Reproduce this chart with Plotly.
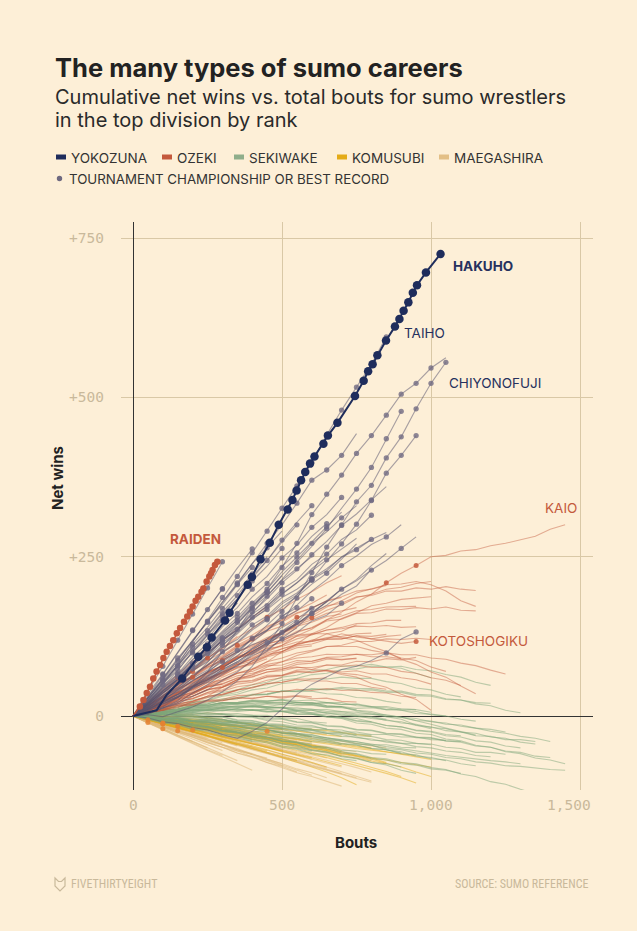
import plotly.graph_objects as go

# ---------------- data ----------------
BOUT_GRID = [0, 50, 100, 150, 200, 250, 300, 350, 400, 450, 500, 550, 600, 650, 700, 750,
             800, 850, 900, 950, 1000, 1050, 1100, 1150, 1200, 1250, 1300, 1350, 1400, 1450, 1500]

RANK_LABELS = ["YOKOZUNA", "OZEKI", "SEKIWAKE", "KOMUSUBI", "MAEGASHIRA"]
RANK_COLORS = ["#1f2d5c", "#c4593c", "#8fae8b", "#e4ab17", "#e3bf86"]
CHAMP_LABEL = "TOURNAMENT CHAMPIONSHIP OR BEST RECORD"

X_TICKS = [0, 500, 1000, 1500]
X_TICK_LABELS = ["0", "500", "1,000", "1,500"]
Y_TICKS = [0, 250, 500, 750]
Y_TICK_LABELS = ["0", "+250", "+500", "+750"]

HAKUHO_BOUTS = [0, 79, 113, 165, 219, 248, 264, 309, 324, 385, 399, 428, 459, 489, 519, 535, 549, 564, 578,
                594, 609, 639, 654, 686, 745, 774, 789, 804, 820, 849, 879, 894, 908, 924, 939, 953, 983, 1032]
HAKUHO_NET = [0, 9, 33, 59, 93, 108, 123, 150, 162, 206, 218, 246, 272, 300, 324, 339, 354, 370, 383,
              396, 407, 427, 440, 460, 502, 526, 541, 552, 566, 589, 611, 623, 636, 649, 664, 676, 696, 725]
HAKUHO_FIRST_TITLE = 3

RAIDEN_BOUTS = [0, 23, 35, 46, 57, 68, 79, 91, 102, 113, 124, 135, 147, 158, 171, 182, 191, 200, 210, 219,
                230, 236, 247, 256, 262, 267, 275, 283]
RAIDEN_NET = [0, 15, 25, 36, 46, 59, 70, 80, 91, 101, 110, 119, 130, 138, 148, 156, 164, 172, 181, 187,
              195, 200, 211, 219, 224, 229, 237, 242]

# net wins sampled every 50 bouts (BOUT_GRID) for each wrestler, grouped by highest rank
YOKOZUNA_NET = [
    [0, 22, 50, 80, 116, 150, 186, 219, 256, 290, 326, 361, 398, 441, 480, 516, 552, 595],
    [0, 3, 12, 24, 46, 69, 101, 134, 170, 199, 233, 271, 316, 348, 378, 412, 440, 472, 505, 522, 546, 562],
    [0, 2, -1, 6, 14, 25, 38, 55, 78, 110, 145, 185, 225, 265, 300, 336, 362, 405, 438, 482, 522, 555],
    [0, 10, 24, 41, 60, 84, 110, 134, 161, 188, 214, 241, 266, 294, 326, 356, 390, 435, 478],
    [0, 5, 15, 29, 44, 62, 81, 99, 121, 142, 164, 190, 214, 243, 270, 301, 338, 381, 409, 440],
    [0, 28, 57, 89, 117, 149, 178, 209, 239, 271, 300, 334, 370, 386, 409, 443],
    [0, 15, 36, 54, 76, 94, 119, 139, 163, 184, 209, 229, 253, 274, 299, 317, 339, 360],
    [0, 10, 21, 34, 51, 64, 81, 94, 116, 134, 156, 174, 196, 214, 236, 251, 269, 281, 300],
    [0, 8, 19, 29, 46, 59, 76, 89, 106, 121, 139, 152, 169, 181, 199, 212, 229, 244, 263, 281],
    [0, 20, 43, 61, 83, 99, 119, 135, 153, 167, 186, 199, 216, 231, 249, 261, 277],
    [0, 20, 46, 71, 101, 127, 157, 184, 216, 244, 276, 304, 330],
    [0, 15, 36, 57, 83, 104, 129, 151, 177, 199, 226, 249, 273, 297, 320],
    [0, 12, 29, 44, 63, 79, 99, 115, 135, 151, 171, 187, 207, 224, 246, 270],
    [0, 25, 53, 79, 109, 134, 163, 189, 219, 244, 273, 300],
    [0, 15, 33, 49, 71, 89, 111, 129, 151, 169, 191, 209, 231, 250],
    [0, 18, 39, 59, 83, 103, 127, 147, 171, 194, 220],
    [0, 10, 23, 34, 49, 61, 77, 89, 105, 117, 133, 145, 161, 174, 191, 204, 230],
    [0, 28, 57, 83, 113, 139, 169, 195, 223, 250],
    [0, 10, 21, 31, 46, 57, 73, 85, 101, 114, 131, 144, 161, 179, 200],
    [0, 8, 19, 29, 43, 55, 71, 83, 99, 112, 129, 147, 170],
    [0, 22, 45, 65, 89, 109, 133, 155, 180],
    [0, 12, 31, 49, 73, 94, 121, 144, 171, 194, 221, 244, 271, 289, 311, 330],
    [0, 5, 13, 21, 36, 49, 66, 79, 97, 111, 129, 144, 163, 179, 199, 214, 236, 255],
    [0, 10, 23, 33, 47, 57, 73, 85, 101, 115, 133, 150],
    [0, 5, 13, 19, 31, 41, 56, 69, 87, 102, 122, 139, 161, 180],
    [0, 18, 39, 57, 81, 101, 123, 140],
    [0, 30, 65, 99, 135, 167, 200],
    [0, 28, 59, 87, 119, 147, 179, 207, 239, 264, 290],
    [0, 18, 39, 57, 81, 101, 125, 145, 169, 189, 213, 231, 250],
    [0, 12, 25, 40, 55, 70, 85, 100, 112, 120],
    [0, 25, 52, 79, 104, 129, 152, 178],
    [0, 38, 78, 119, 160, 201, 242],
    [0, -3, -9, -12, -18, -22, -29, -35, -24, -10, 11, 34, 50, 61, 73, 78, 87, 99, 121, 132],
    [0, 20, 44, 62, 88, 108, 131, 150, 174, 195],
    [0, 26, 49, 77, 99, 127, 150, 177],
    [0, 17, 37, 52, 74, 92, 115, 131, 155, 172, 196],
    [0, 31, 59, 91, 118, 148, 175, 206, 233],
    [0, 14, 32, 45, 65, 80, 101, 116, 138, 153, 176, 190, 213],
    [0, 22, 47, 66, 93, 113, 140, 161, 187, 208, 235, 256, 282, 302],
    [0, 12, 27, 38, 56, 68, 88, 101, 122, 135, 157, 170],
    [0, 35, 66, 101, 134, 167, 199, 232, 262],
    [0, 19, 40, 57, 80, 97, 120, 136, 160, 176, 199, 214, 238, 254, 277, 292, 315],
    [0, 24, 52, 72, 101, 121, 150, 170, 199, 219, 248, 268, 296, 316, 343],
    [0, 9, 22, 30, 45, 53, 69, 78, 95, 104, 121, 131, 149, 158, 177],
    [0, 16, 36, 49, 71, 85, 107, 120, 143, 157, 179, 193, 214, 228, 250, 263, 277, 288],
    [0, 27, 55, 79, 108, 132, 161, 183, 212, 235, 263],
    [0, 13, 29, 42, 59, 72, 91, 103, 121, 134, 153, 165, 184],
    [0, 21, 41, 59, 80, 98, 118, 135, 155, 173, 192, 209, 228, 245, 262, 279],
]
YOKOZUNA_TITLES = [
    [6, 7, 8, 9, 10, 11, 12, 13, 14, 15, 16, 17],
    [8, 9, 10, 11, 12, 13, 14, 15, 16, 17, 18, 19, 20],
    [10, 11, 12, 13, 14, 15, 16, 17, 18, 19, 20, 21],
    [9, 11, 13, 15, 16, 17, 18],
    [10, 12, 14, 15, 16, 17, 18, 19],
    [5, 7, 9, 11, 12, 13, 14],
    [8, 10, 12, 14, 16],
    [10, 14, 17],
    [12, 16, 18],
    [6, 9, 12, 15],
    [4, 6, 8, 10, 12],
    [5, 8, 11, 13],
    [9, 13],
    [3, 5, 7, 9, 11],
    [6, 10],
    [4, 7, 9],
    [12],
    [2, 4, 6, 8],
    [10],
    [11],
    [3, 5, 7],
    [6, 9, 12, 14],
    [14],
    [9],
    [12],
    [4, 6],
    [2, 4, 6],
    [3, 5, 7, 9],
    [5, 8, 11],
    [6],
    [3, 5],
    [2, 3, 4, 5, 6],
    [17, 19],
    [3, 5, 7, 9],
    [2, 4, 6],
    [4, 6, 8, 10],
    [2, 3, 5, 7, 8],
    [6, 9, 12],
    [3, 5, 7, 9, 11, 13],
    [8, 11],
    [2, 4, 5, 6, 8],
    [4, 7, 10, 13, 16],
    [3, 6, 8, 10, 12, 14],
    [10, 14],
    [8, 12, 16],
    [2, 4, 6, 8, 10],
    [7, 12],
    [5, 9, 13],
]

OZEKI_NET = [
    [0, 9, 17, 29, 39, 53, 64, 81, 90, 101, 111, 126, 136, 151, 163, 179, 191, 209, 224, 236, 250, 252, 259,
     261, 267, 271, 277, 282, 293, 300],
    [0, 5, 13, 21, 36, 47, 61, 71, 86, 94, 106, 111, 119, 121, 129, 124, 121, 117, 114, 117],
    [0, 11, 21, 36, 47, 63, 75, 91, 103, 119, 131, 146, 157, 171, 181, 193, 199, 206, 207, 211, 206, 196, 181, 172],
    [0, 13, 24, 39, 51, 67, 79, 95, 107, 121, 131, 145, 154, 166, 174, 186, 191, 199, 202, 208, 211],
    [0, 4, 9, 13, 23, 31, 45, 57, 73, 85, 101, 113, 129, 139, 153, 162, 173, 177, 183, 185, 187],
    [0, 11, 21, 36, 49, 66, 79, 93, 101, 113, 119, 127, 129, 129, 123, 119, 109, 101, 89, 81, 69, 61, 47, 35],
    [0, 9, 15, 26, 34, 46, 54, 63, 67, 73, 74, 77, 73, 71, 65, 61, 51, 45, 34, 26, 9],
    [0, 13, 25, 41, 54, 69, 79, 91, 97, 106, 109, 116, 117, 121, 121, 126, 121, 125, 127],
    [0, 9, 17, 31, 41, 57, 69, 83, 93, 107, 117, 131, 139, 151, 157, 165, 167, 171, 171, 172],
    [0, 16, 29, 47, 61, 79, 93, 109, 121, 136, 147, 161, 169, 181, 187, 196, 199, 205],
    [0, 11, 21, 35, 45, 59, 69, 81, 89, 99, 105, 113, 117, 123, 125, 129, 130],
    [0, 9, 15, 25, 31, 41, 47, 57, 61, 69, 73, 81, 83, 89, 89, 90],
    [0, 16, 29, 46, 59, 75, 87, 101, 111, 123, 131, 141, 147, 156, 160],
    [0, 7, 11, 19, 23, 31, 34, 41, 44, 51, 53, 58, 58, 60],
    [0, 13, 23, 37, 47, 59, 67, 77, 83, 93, 99, 107, 110],
    [0, 17, 31, 49, 61, 77, 87, 101, 109, 121, 129, 140],
    [0, 9, 17, 29, 37, 49, 57, 67, 73, 81, 85, 91, 93, 97, 96, 97, 93, 93, 90],
    [0, 9, 15, 27, 35, 47, 55, 67, 74, 85, 91, 99, 103, 109, 109, 109, 103, 99, 91, 87, 77, 70],
    [0, 13, 23, 37, 45, 57, 65, 75, 81, 90],
    [0, 17, 31, 49, 61, 77, 89, 106, 120],
    [0, 9, 15, 23, 27, 35, 39, 46, 49, 56, 60],
    [0, 7, 11, 19, 23, 31, 34, 40],
    [0, 9, 15, 25, 31, 41, 45, 53, 55, 61, 63, 69, 69, 71, 67, 65, 60],
    [0, 19, 35, 55, 71, 91, 105, 123, 137, 155, 167, 183, 195, 209, 220],
    [0, 17, 31, 49, 63, 81, 95, 111, 123, 139, 151, 166, 177, 190],
    [0, 11, 19, 33, 43, 57, 67, 81, 91, 103, 111, 121, 127, 135, 139, 145, 146, 150, 150],
    [0, 7, 11, 21, 27, 37, 45, 57, 65, 77, 85, 95, 101, 109, 111, 117, 117, 121, 120, 122, 120],
    [0, 11, 19, 31, 37, 46, 50],
    [0, 6, 9, 15, 17, 23, 24, 28, 28, 31, 30, 32, 30],
    [0, 13, 23, 37, 47, 63, 75, 91, 103, 119, 129, 143, 151, 161, 165, 170],
    [0, 6, 9, 17, 21, 29, 33, 41, 45, 51, 53, 57, 55, 55, 51, 51, 45, 42],
    [0, 15, 27, 43, 53, 69, 79, 93, 101, 115, 125, 138],
    [0, 21, 41, 61, 79, 99, 117, 137, 155, 172],
    [0, 19, 37, 57, 73, 91, 107, 125],
    [0, 23, 43, 65, 85, 105],
    [0, 12, 21, 34, 42, 55, 63, 76, 83, 95, 101, 113, 118, 129, 133, 143],
    [0, 8, 14, 23, 28, 37, 41, 50, 53, 62, 64, 72, 73, 80, 80, 86, 85, 90, 88, 92],
    [0, 15, 26, 42, 52, 67, 76, 91, 99, 113, 120, 133, 138, 149, 152, 161, 162, 168, 167, 170, 168, 171, 166, 165],
    [0, 10, 17, 28, 34, 45, 50, 60, 64, 73, 76, 84, 86, 92, 93, 97, 96, 99, 96, 96, 91, 89, 83, 79, 72, 66],
    [0, 6, 9, 16, 18, 25, 26, 32, 33, 39, 38, 42, 40, 43, 40, 41, 37, 36, 31, 29],
    [0, 18, 32, 50, 63, 80, 92, 108, 118, 133, 141, 155, 161, 173, 177, 187, 189, 196, 196, 201, 199, 203, 199, 197],
    [0, 14, 24, 38, 47, 60, 68, 80, 86, 97, 101, 110, 113, 120, 121, 126, 125, 128],
    [0, 10, 16, 27, 31, 42, 45, 54, 56, 64, 64, 70, 68, 72, 69, 71, 66, 66, 60, 57, 50],
    [0, 20, 37, 55, 70, 87, 100, 115, 127, 141, 150, 162, 170, 180, 186],
    [0, 7, 10, 17, 18, 24, 24, 29, 27, 31, 28, 31, 27, 28, 23, 22],
    [0, 16, 29, 44, 55, 69, 78, 91, 98, 110, 115, 125, 128, 135, 137, 141, 140, 142, 139, 140],
    [0, 11, 19, 30, 36, 46, 51, 59, 62, 69, 71, 76, 76, 80, 78, 80, 76, 76, 70, 67, 60, 56, 48],
    [0, 13, 22, 34, 41, 52, 57, 67, 70, 79, 80, 87, 86, 91, 88, 91],
]
OZEKI_TITLES = [[17, 19], [19], [], [12], [], [], [], [], [], [8], [], [], [6], [], [], [4], [], [], [], [],
                [], [], [], [5, 9], [7], [], [], [], [], [], [], [], [3], [], [], [], [], [6], [], [], [11],
                [], [], [4], [], [], [], []]

SEKIWAKE_NET = [
    [0, 3, 7, 9, 15, 17, 21, 19, 19, 14, 13, 7, 5, -1, -4, -11, -13, -19, -21, -27, -29, -36, -39, -46, -49,
     -56, -59, -66, -69, -75],
    [0, -3, -7, -9, -15, -17, -23, -25, -31, -33, -39, -41, -47, -49, -56, -59, -65, -67, -73, -75, -81, -84,
     -91, -95, -103, -107, -115, -122],
    [0, 2, 6, 7, 11, 11, 15, 15, 16, 13, 13, 9, 9, 4, 3, -1, -2, -7, -9, -15, -17, -23, -25, -31, -32, -37,
     -37, -40],
    [0, 4, 9, 11, 17, 19, 25, 27, 33, 34, 39, 39, 43, 42, 45, 43, 43, 39, 39, 34, 33, 27, 25, 19, 16, 9, 5],
    [0, 5, 11, 14, 21, 25, 33, 37, 45, 49, 56, 59, 65, 67, 73, 74, 78, 77, 78, 73, 71, 65, 61, 53, 48],
    [0, -2, -3, -7, -7, -11, -11, -15, -15, -19, -19, -23, -23, -27, -27, -31, -32, -37, -38, -43, -44, -49,
     -51, -57, -57, -60],
    [0, 3, 8, 9, 15, 16, 21, 21, 25, 24, 25, 21, 21, 16, 15, 9, 7, 1, -2, -7, -13, -19, -24, -30],
    [0, -2, -6, -8, -14, -17, -23, -25, -31, -33, -39, -42, -49, -51, -58, -60, -67, -69, -75, -77, -83, -85,
     -90],
    [0, 2, 4, 1, 1, -4, -5, -11, -13, -19, -21, -27, -29, -35, -37, -43, -46, -53, -56, -63, -65, -70],
    [0, 4, 9, 11, 16, 17, 21, 21, 24, 23, 25, 21, 21, 16, 14, 8, 5, -1, -5, -14, -20],
    [0, -1, -4, -4, -9, -10, -15, -16, -21, -22, -27, -28, -33, -34, -39, -40, -45, -45, -49, -50],
    [0, 5, 11, 13, 19, 21, 27, 29, 34, 35, 39, 38, 39, 35, 34, 29, 28, 23, 20],
    [0, -3, -8, -10, -16, -18, -24, -26, -32, -34, -40, -42, -48, -49, -54, -55, -59, -60],
    [0, 2, 5, 4, 6, 3, 3, -1, -2, -7, -9, -14, -15, -21, -22, -28, -30],
    [0, 4, 9, 11, 16, 17, 21, 21, 24, 21, 22, 18, 18, 14, 13, 10],
    [0, -2, -6, -7, -12, -13, -18, -20, -26, -28, -34, -35, -40, -41, -45],
    [0, 1, 3, 1, 2, -1, -1, -6, -7, -12, -13, -17, -17, -20],
    [0, -4, -10, -12, -19, -21, -28, -30, -37, -40, -47, -50, -55],
    [0, 3, 7, 7, 11, 10, 12, 9, 10, 7, 7, 5],
    [0, -3, -8, -9, -15, -16, -22, -23, -29, -30, -35],
    [0, -1, -4, -4, -8, -8, -12, -11, -15, -15],
    [0, -5, -11, -14, -21, -24, -31, -34, -40],
    [0, -1, -4, -3, -7, -6, -10, -10],
    [0, 4, 9, 11, 17, 19, 25, 27, 33, 34, 39, 39, 42, 41, 43, 40, 41, 37, 37, 32, 31, 26, 25, 21, 20],
    [0, 5, 11, 14, 21, 24, 31, 34, 41, 44, 51, 53, 58, 58, 61, 59, 59, 54, 51, 44, 41, 34, 30],
    [0, 6, 13, 17, 25, 29, 37, 41, 49, 53, 61, 64, 71, 73, 78, 78, 81, 77, 75, 67, 60],
    [0, 2, 5, 5, 9, 9, 13, 13, 16, 15, 18, 16, 17, 14, 15, 12, 13, 10, 11, 10],
    [0, 1, 3, 2, 5, 3, 4, 1, 1, -3, -4, -9, -10, -15, -16, -21, -22, -27, -28, -33, -34, -39, -41, -47, -49,
     -55, -57, -63, -65],
    [0, -1, -3, -3, -7, -8, -13, -14, -19, -21, -27, -29, -35, -37, -43, -45, -51, -53, -59, -61, -67, -69,
     -75, -78],
    [0, 2, 5, 5, 9, 8, 11, 9, 10, 7, 7, 3, 3, -1, -2, -7, -9, -15, -17, -23, -25, -31, -33, -39, -41, -47, -50],
    [0, -4, -9, -11, -17, -19, -25, -27, -34, -37, -44, -47, -54, -57, -64, -67, -73, -75, -80],
    [0, -4, -10, -13, -20, -22, -29, -32, -39, -42, -49, -52, -59, -61, -67, -70],
    [0, 1, 3, 1, 2, -2, -2, -7, -8, -13, -14, -19, -20],
    [0, 3, 7, 8, 13, 14, 19, 19, 23, 23, 26, 24, 25, 21, 21, 16, 15, 10, 9, 4, 3, 0],
    [0, 2, 5, 5, 9, 9, 13, 12, 15, 13, 14, 11, 11, 7, 7, 3, 3, -1, -2, -7, -8, -13, -14, -19, -21, -25],
    [0, 3, 7, 8, 13, 13, 16, 14, 15, 12, 13, 9, 9, 5, 5, 1, -1, -5],
    [0, -1, -3, -2, -5, -5, -9, -9, -14, -15, -20, -21, -26, -27, -32, -33, -38, -39, -43, -43, -45],
    [0, 4, 9, 10, 15, 15, 19, 19, 22, 20, 21, 18, 19, 15, 15],
    [0, 1, 3, 2, 4, 1, 2, -1, -1, -5, -5, -10, -11, -16, -17, -22, -23, -28, -29, -34, -35, -39, -40],
    [0, -3, -7, -9, -15, -17, -23, -26, -33, -36, -43, -46, -53, -56, -63, -66, -73, -77, -85, -90],
    [0, -3, -4, -8, -9, -13, -14, -19, -20, -25, -26, -31, -32, -37, -39, -44, -46, -51, -53, -58, -60, -65,
     -67, -72, -74, -78, -79, -82, -84, -85],
    [0, 2, 3, 6, 6, 9, 8, 11, 9, 11, 8, 9, 5, 5, 1, 0, -4, -6, -11, -13, -18, -20, -25, -27, -33, -35, -41, -44],
    [0, -2, -5, -5, -9, -9, -13, -12, -16, -15, -19, -18, -22, -21, -25, -25, -29, -29, -33, -33, -37, -38],
    [0, 3, 5, 7, 9, 12, 13, 16, 16, 19, 18, 21, 19, 21, 18, 19, 15, 15, 11, 10, 6],
    [0, -1, -1, -4, -4, -7, -7, -11, -11, -15, -16, -20, -21, -25, -26, -30],
    [0, -2, -6, -7, -12, -13, -18, -19, -24, -25, -30, -32, -37, -39, -44, -46, -51, -53, -58],
    [0, 1, 1, -1, -1, -4, -5, -9, -10, -14, -15, -20, -22, -27, -29, -34, -36, -41, -43, -48, -50, -55, -57,
     -62, -64],
    [0, 4, 7, 10, 12, 15, 16, 19, 19, 21, 20, 22, 20, 21, 18, 18, 14, 13, 9, 7, 2, 0, -5, -8],
    [0, -3, -6, -10, -13, -17, -20, -25, -28, -33, -36, -41, -44],
    [0, 2, 2, 4, 3, 5, 3, 4, 1, 1, -3, -4, -9, -11],
    [0, -2, -3, -6, -7, -10, -12, -16, -18, -22, -24, -28, -30, -34, -37, -41, -44, -48, -51, -55, -58, -62,
     -65, -68, -70, -72, -75],
    [0, 1, 4, 4, 7, 6, 9, 7, 9, 6, 7, 3, 3, -2, -3, -8, -10, -15, -17, -22, -24, -29, -31],
    [0, -1, -4, -5, -9, -10, -14, -15, -20, -21, -26, -27, -32],
    [0, 3, 4, 7, 7, 10, 9, 11, 9, 10, 7, 7, 3, 2, -2, -4, -9],
    [0, -2, -4, -4, -7, -7, -10, -10, -14, -14, -18],
    [0, 2, 2, 1, -1, -3, -6, -8, -12, -14],
    [0, -3, -7, -8, -13, -15, -20, -22, -28],
    [0, 1, 0, -2, -2, -5, -6, -10],
    [0, 4, 6, 9, 10, 13, 13, 15, 14, 15, 13, 13, 10, 10, 7, 6, 3, 2, -2, -4, -9, -11, -16, -19, -24, -27, -32,
     -35, -40],
]

KOMUSUBI_NET = [
    [0, -2, -7, -9, -14, -18, -21, -27, -30, -35, -39, -44, -48, -53, -58, -62, -68, -74, -80, -88, -95],
    [0, -4, -7, -13, -17, -22, -26, -32, -36, -41, -47, -51, -57, -62, -68, -74, -80, -87, -95],
    [0, -6, -12, -18, -25, -31, -38, -44, -51, -58, -65, -72, -80, -88, -97, -108],
    [0, -3, -6, -11, -14, -19, -22, -27, -31, -36, -40, -45, -50, -55, -60],
    [0, -5, -10, -17, -22, -28, -34, -40, -47, -53, -60, -66, -73, -80],
    [0, -2, -5, -8, -12, -15, -19, -22, -26, -29, -33, -36, -40],
    [0, -6, -12, -19, -25, -31, -38, -44, -51, -57, -64, -70],
    [0, -2, -5, -7, -10, -13, -16, -20, -23, -27, -30],
    [0, -6, -12, -18, -24, -30, -37, -43, -49, -55],
    [0, -2, -5, -7, -10, -12, -15, -17, -20],
    [0, -6, -12, -19, -25, -32, -38, -45],
    [0, -3, -5, -8, -10, -13, -15],
    [0, -6, -12, -18, -24, -30],
    [0, -3, -5, -8, -10],
    [0, 1, 0, -3, -6, -9, -13, -16, -20, -24, -28, -32, -36, -40, -44, -47, -50],
    [0, -3, -8, -11, -16, -20, -25, -29, -34, -38, -43, -48, -52, -57, -62, -66, -71, -75],
    [0, -4, -10, -15, -21, -26, -32, -37, -43, -48, -54, -59, -65],
    [0, -4, -11, -16, -22, -27, -33, -38, -44, -49, -55],
    [0, 1, 3, 2, 0, -3, -6, -10, -13, -17, -20, -24, -27, -30, -32],
    [0, -2, -5, -9, -12, -16, -19, -23, -26, -30, -33, -37, -40, -44, -47, -51, -54, -57, -59, -62],
    [0, -5, -9, -12],
    [0, -2, -7, -10, -14, -18, -21, -25],
    [0, -3, -7, -11, -15, -19, -23, -27, -31, -35],
    [0, -3, -8, -12, -17, -21, -26, -30, -35, -39, -42, -45],
    [0, -3, -7, -11, -15, -19, -23, -27, -31, -35, -39, -43, -47, -50],
    [0, -3, -5, -9, -11, -15, -17, -21, -24, -28, -31, -35, -38, -42, -45, -49, -52, -56, -60, -64, -68],
    [0, -1, -4, -5, -9, -10, -14, -16, -20, -22, -26, -28, -33],
    [0, -4, -6, -11, -13, -18, -21, -26, -29, -34, -37, -43, -46, -52, -56, -62, -66, -73],
    [0, -2, -3, -6, -7, -10, -11, -14, -16, -19, -21],
    [0, -5, -8, -14, -17, -23, -27, -33, -37, -43, -48, -54, -59, -65, -71, -77, -83, -90, -97, -105],
    [0, -1, -3, -6, -8, -11, -14, -17, -20],
    [0, -3, -6, -10, -13, -17, -20, -25, -28, -33, -36, -41, -45, -50, -54],
    [0, -2, -6, -8, -12, -14, -18],
    [0, -4, -8, -11, -16, -19, -24, -28, -33, -36, -41, -45, -50, -54, -59, -62, -66, -69, -73, -76, -80],
    [0, -1, -2, -3, -5, -6, -8, -10, -12, -14, -16, -18, -20, -23, -26, -29, -32],
    [0, -6, -10, -16, -21, -27, -32, -38, -43, -49, -55, -61, -66, -72, -78],
]
KOMUSUBI_TITLES = [[], [], [2], [], [4], [], [], [], [], [], [], [], [], [], [9], [], [], [], [], [], [],
                   [], [], [], [], [], [], [], [], [], [], [], [], [], [], [3]]

MAEGASHIRA_NET = [
    [0, -6, -15],
    [0, -4, -13, -20],
    [0, -7, -12, -21, -25],
    [0, -5, -14, -19, -28, -35],
    [0, -8, -15, -23, -29, -36, -42],
    [0, -6, -13, -17, -25, -31, -40, -47],
    [0, -9, -16, -25, -31, -40, -46, -55, -60],
    [0, -7, -15, -21, -30, -36, -45, -51, -60, -66],
    [0, -8, -17, -24, -33, -40, -49, -55, -64, -70, -78],
    [0, -9, -16, -26, -33, -42, -49, -58, -64, -73, -79, -88],
    [0, -7, -15, -23, -30, -38, -45, -53, -61, -68, -76, -84, -93],
    [0, -8, -14, -23, -30, -38, -44, -53, -59, -68, -75, -83, -89, -97],
    [0, -9, -17, -25, -34, -42, -49, -58, -65, -73, -81, -89, -95, -103, -110],
    [0, -2, -5],
    [0, -1, -6, -8],
    [0, -3, -7, -9, -14],
    [0, 1, -3, -5, -10, -12],
    [0, -2, -7, -9, -15, -18, -23],
    [0, -3, -6, -11, -14, -20, -23, -29],
    [0, -4, -9, -12, -18, -22, -28, -31, -37],
    [0, -2, -8, -11, -17, -20, -27, -30, -36, -40],
    [0, -5, -9, -15, -19, -26, -30, -36, -40, -47, -52],
    [0, -3, -9, -13, -20, -24, -31, -35, -42, -46, -53, -58],
    [0, -4, -10, -15, -21, -26, -33, -37, -44, -49, -56, -61, -68],
    [0, -6, -11, -18, -23, -31, -36, -43, -49, -57, -62, -69, -74, -82],
    [0, -5, -12, -17, -25, -30, -38, -43, -51, -57, -64, -70, -77, -83, -90],
    [0, -6, -13, -19, -26, -32, -39, -45, -52, -58, -65, -71, -78, -84, -91, -97],
    [0, 2, 0, 3],
    [0, 1, 3, 1, 4],
    [0, -1, 1, -2, 0, -3],
    [0, 3, 1, 4, 2, 5, 3],
    [0, -10, -18],
    [0, -9, -19, -27],
    [0, -11, -20, -31, -40],
    [0, -10, -21, -30, -41, -50],
    [0, -11, -21, -32, -42, -53, -62],
    [0, -10, -20, -30, -41, -51, -61, -70],
    [0, -11, -22, -33, -43, -54, -64, -75, -85],
    [0, -4, -7, -12, -14, -19, -22, -27, -30, -35, -38],
    [0, -2, -6, -8, -13, -15, -20, -22, -27, -30, -35, -37, -42],
    [0, -3, -8, -10, -16, -19, -24, -27, -33, -36, -42, -45, -51, -54, -60, -64, -70],
    [0, -4, -8, -11, -16, -19, -24, -27, -32, -35, -40, -43, -48, -51, -56, -60],
    [0, -5, -11, -15, -21, -26, -32, -36, -42, -47, -53, -58, -64, -69, -75, -81, -88],
    [0, -2, -3, -6, -7, -10, -11, -14, -16, -19, -21, -24, -26, -29],
    [0, -6, -11, -17, -22, -28, -33, -39, -44, -50, -55, -61, -67, -73, -80],
    [0, -1, -4, -4, -8, -9, -13, -14, -18, -19, -24],
    [0, -7, -12, -19, -24, -31, -36, -43, -48],
    [0, -2, -7, -9, -14, -16, -21, -24, -29, -31, -36, -39],
    [0, -8, -15, -23, -30, -38, -45, -53, -60, -68, -75],
    [0, -1, -3, -4, -6, -7, -9, -11, -13],
    [0, -4, -7, -11, -14, -18, -21, -25, -29, -33, -37, -40, -44, -48, -52, -56],
    [0, -9, -18, -27, -36, -45, -54],
    [0, -5, -10, -14, -19, -24, -29, -34, -39, -45, -50, -56, -61, -66],
    [0, -3, -5, -7, -10, -12, -15, -17, -20, -22, -26, -29, -33, -36, -40, -43, -47, -50],
    [0, -6, -12, -17, -23, -29, -35, -41, -47, -53, -59, -66, -73, -80, -87, -95, -102],
    [0, -2, -4, -7, -9, -12, -14, -17, -19, -22, -25, -28],
    [0, -4, -9, -13, -18, -22, -27, -31, -36, -40, -45, -49, -54, -58, -63],
    [0, 0, -2, -1, -3, -2, -4],
    [0, -7, -14, -20, -27, -33, -40, -46, -53, -59, -66, -72, -79, -85, -92, -98, -104],
]
MAEGASHIRA_TITLES = [[1], [], [2], [], [3], [], [], [], [], [], [], [], [], [], [], [], [], [], [], [],
                     [], [], [], [], [], [], [], [], [], [], [], [1], [], [2], [], [], [], [], [], [],
                     [], [], [], [], [2], [], [], [], [], [], [], [], [], [], [], [], [], []]

LABELS = [  # name, colour index, bold
    ("HAKUHO", 0, True), ("TAIHO", 0, False), ("CHIYONOFUJI", 0, False),
    ("KAIO", 1, False), ("KOTOSHOGIKU", 1, False), ("RAIDEN", 1, True),
]

# ---------------- layout helpers ----------------
W, H = 637, 931
PL, PR, PT, PB = 121, 593, 222, 790
X_RANGE = [-40.3, 1543.6]
Y_RANGE = [-116.1, 775.1]
BG = "#fdefd7"
TICK_COLOR = "#c9b99b"
NAVY_TEXT = "#26315e"
RED_TEXT = "#c4593c"


def px(x):
    return (x - PL) / (PR - PL)


def py(y):
    return (PB - y) / (PB - PT)


fig = go.Figure()


def add_group(nets, line_color, width, titles=None):
    dx, dy = [], []
    for i, vals in enumerate(nets):
        xs = BOUT_GRID[:len(vals)]
        fig.add_trace(go.Scatter(x=xs, y=vals, mode="lines",
                                 line=dict(color=line_color, width=width),
                                 hoverinfo="skip", showlegend=False))
        if titles and i < len(titles):
            for k in titles[i]:
                dx.append(xs[k])
                dy.append(vals[k])
    return dx, dy


mx, my = add_group(MAEGASHIRA_NET, "rgba(222,184,120,0.55)", 1.1, MAEGASHIRA_TITLES)
kx, ky = add_group(KOMUSUBI_NET, "rgba(228,171,23,0.5)", 1.1, KOMUSUBI_TITLES)
add_group(SEKIWAKE_NET, "rgba(125,165,122,0.5)", 1.1)
ox, oy = add_group(OZEKI_NET, "rgba(196,89,60,0.45)", 1.1, OZEKI_TITLES)
yx, yy = add_group(YOKOZUNA_NET, "rgba(88,85,112,0.52)", 1.1, YOKOZUNA_TITLES)

fig.add_trace(go.Scatter(x=mx + kx, y=my + ky, mode="markers",
                         marker=dict(color="rgba(228,130,50,0.85)", size=5),
                         hoverinfo="skip", showlegend=False))
fig.add_trace(go.Scatter(x=ox, y=oy, mode="markers",
                         marker=dict(color="rgba(196,89,60,0.85)", size=5),
                         hoverinfo="skip", showlegend=False))
fig.add_trace(go.Scatter(x=yx, y=yy, mode="markers",
                         marker=dict(color="rgba(112,106,130,0.8)", size=5.3),
                         hoverinfo="skip", showlegend=False))

# Raiden
fig.add_trace(go.Scatter(x=RAIDEN_BOUTS, y=RAIDEN_NET, mode="lines",
                         line=dict(color=RANK_COLORS[1], width=1.5),
                         hoverinfo="skip", showlegend=False))
fig.add_trace(go.Scatter(x=RAIDEN_BOUTS[1:], y=RAIDEN_NET[1:], mode="markers",
                         marker=dict(color=RANK_COLORS[1], size=6.5),
                         hoverinfo="skip", showlegend=False))
# Hakuho
fig.add_trace(go.Scatter(x=HAKUHO_BOUTS, y=HAKUHO_NET, mode="lines",
                         line=dict(color=RANK_COLORS[0], width=2),
                         hoverinfo="skip", showlegend=False))
fig.add_trace(go.Scatter(x=HAKUHO_BOUTS[HAKUHO_FIRST_TITLE:], y=HAKUHO_NET[HAKUHO_FIRST_TITLE:],
                         mode="markers", marker=dict(color=RANK_COLORS[0], size=8.5),
                         hoverinfo="skip", showlegend=False))

ann = []
shapes = []

TEXT_FONT = "Inter, Roboto, 'Open Sans', sans-serif"
MONO_FONT = "'DejaVu Sans Mono', 'Liberation Mono', monospace"
NARROW_FONT = "'Liberation Sans Narrow', 'Roboto Condensed', Roboto, sans-serif"

# title & subtitle
ann.append(dict(text="<b>The many types of sumo careers</b>", x=px(53), y=py(67), xanchor="left",
                yanchor="middle", font=dict(family=TEXT_FONT, size=25.5, color="#222222")))
ann.append(dict(text="Cumulative net wins vs. total bouts for sumo wrestlers", x=px(53), y=py(97),
                xanchor="left", yanchor="middle", font=dict(family=TEXT_FONT, size=20, color="#2a2a2a")))
ann.append(dict(text="in the top division by rank", x=px(53), y=py(120),
                xanchor="left", yanchor="middle", font=dict(family=TEXT_FONT, size=20, color="#2a2a2a")))

# legend
LEG_SWATCH_X = [56, 162, 234, 337, 439]
for lab, col, sx in zip(RANK_LABELS, RANK_COLORS, LEG_SWATCH_X):
    shapes.append(dict(type="rect", xref="paper", yref="paper", x0=px(sx), x1=px(sx + 10),
                       y0=py(159.5), y1=py(154.5), fillcolor=col, line=dict(width=0)))
    ann.append(dict(text=lab, x=px(sx + 12.5), y=py(157.5), xanchor="left", yanchor="middle",
                    font=dict(family=TEXT_FONT, size=13.5, color="#333333")))
shapes.append(dict(type="circle", xref="paper", yref="paper", x0=px(56.8), x1=px(62.2),
                   y0=py(181.2), y1=py(175.8), fillcolor="#6e6980", line=dict(width=0)))
ann.append(dict(text=CHAMP_LABEL, x=px(67), y=py(179), xanchor="left", yanchor="middle",
                font=dict(family=TEXT_FONT, size=13.3, color="#333333")))

# x tick labels (last one kept inside the plot, as in the original)
for i, (tv, tl) in enumerate(zip(X_TICKS, X_TICK_LABELS)):
    last = i == len(X_TICKS) - 1
    ann.append(dict(text=tl, x=X_RANGE[1] if last else tv, xref="x", y=py(805), xanchor="right" if last else "center",
                    yanchor="middle", font=dict(family=MONO_FONT, size=14.5, color=TICK_COLOR)))

# axis titles
ann.append(dict(text="<b>Net wins</b>", x=px(57), y=py(478), textangle=-90, xanchor="center",
                yanchor="middle", font=dict(family=TEXT_FONT, size=15, color="#222222")))
ann.append(dict(text="<b>Bouts</b>", x=px(356), y=py(842), xanchor="center", yanchor="middle",
                font=dict(family=TEXT_FONT, size=15, color="#222222")))

# wrestler labels
LABEL_POS = [(451, 266), (402, 333), (447, 383), (543, 508), (427, 641), (168, 539)]
for (name, ci, bold), (lx, ly) in zip(LABELS, LABEL_POS):
    col = NAVY_TEXT if ci == 0 else RED_TEXT
    ann.append(dict(text=f"<b>{name}</b>" if bold else name, x=px(lx), y=py(ly), xanchor="left",
                    yanchor="middle", font=dict(family=TEXT_FONT, size=13.5, color=col)))

# footer
ann.append(dict(text="FIVETHIRTYEIGHT", x=px(69), y=py(884), xanchor="left", yanchor="middle",
                font=dict(family=NARROW_FONT, size=12, color="#c9b99b")))
ann.append(dict(text="SOURCE: SUMO REFERENCE", x=px(591), y=py(884), xanchor="right", yanchor="middle",
                font=dict(family=NARROW_FONT, size=12, color="#c9b99b")))
fox = [(55, 878), (58.5, 881.5), (61.5, 881.5), (65, 878), (65, 886), (60, 891), (55, 886)]
path = "M " + " L ".join(f"{px(a):.5f},{py(b):.5f}" for a, b in fox) + " Z"
shapes.append(dict(type="path", xref="paper", yref="paper", path=path,
                   line=dict(color="#c9b99b", width=1.2), fillcolor="rgba(0,0,0,0)"))

for a in ann:
    a.setdefault("xref", "paper")
    a.setdefault("yref", "paper")
    a.setdefault("showarrow", False)

fig.update_layout(
    width=W, height=H,
    margin=dict(l=PL, r=W - PR, t=PT, b=H - PB, pad=0),
    paper_bgcolor=BG, plot_bgcolor=BG,
    showlegend=False,
    annotations=ann, shapes=shapes,
    xaxis=dict(range=X_RANGE, tickvals=X_TICKS, showticklabels=False, showgrid=True,
               gridcolor="#d9c8a6", gridwidth=1.3, zeroline=True, zerolinecolor="#333333",
               zerolinewidth=1.4, showline=False, ticks="", fixedrange=True),
    yaxis=dict(range=Y_RANGE, tickvals=Y_TICKS, ticktext=Y_TICK_LABELS, showgrid=True,
               gridcolor="#d9c8a6", gridwidth=1.3, zeroline=True, zerolinecolor="#333333",
               zerolinewidth=1.4, showline=False, ticks="", ticklabelstandoff=16,
               tickfont=dict(family=MONO_FONT, size=14.5, color=TICK_COLOR), fixedrange=True),
)

fig.write_html("out.html", config={"displayModeBar": False},
               post_script="document.body.style.margin='0';document.body.style.background='" + BG + "';")
